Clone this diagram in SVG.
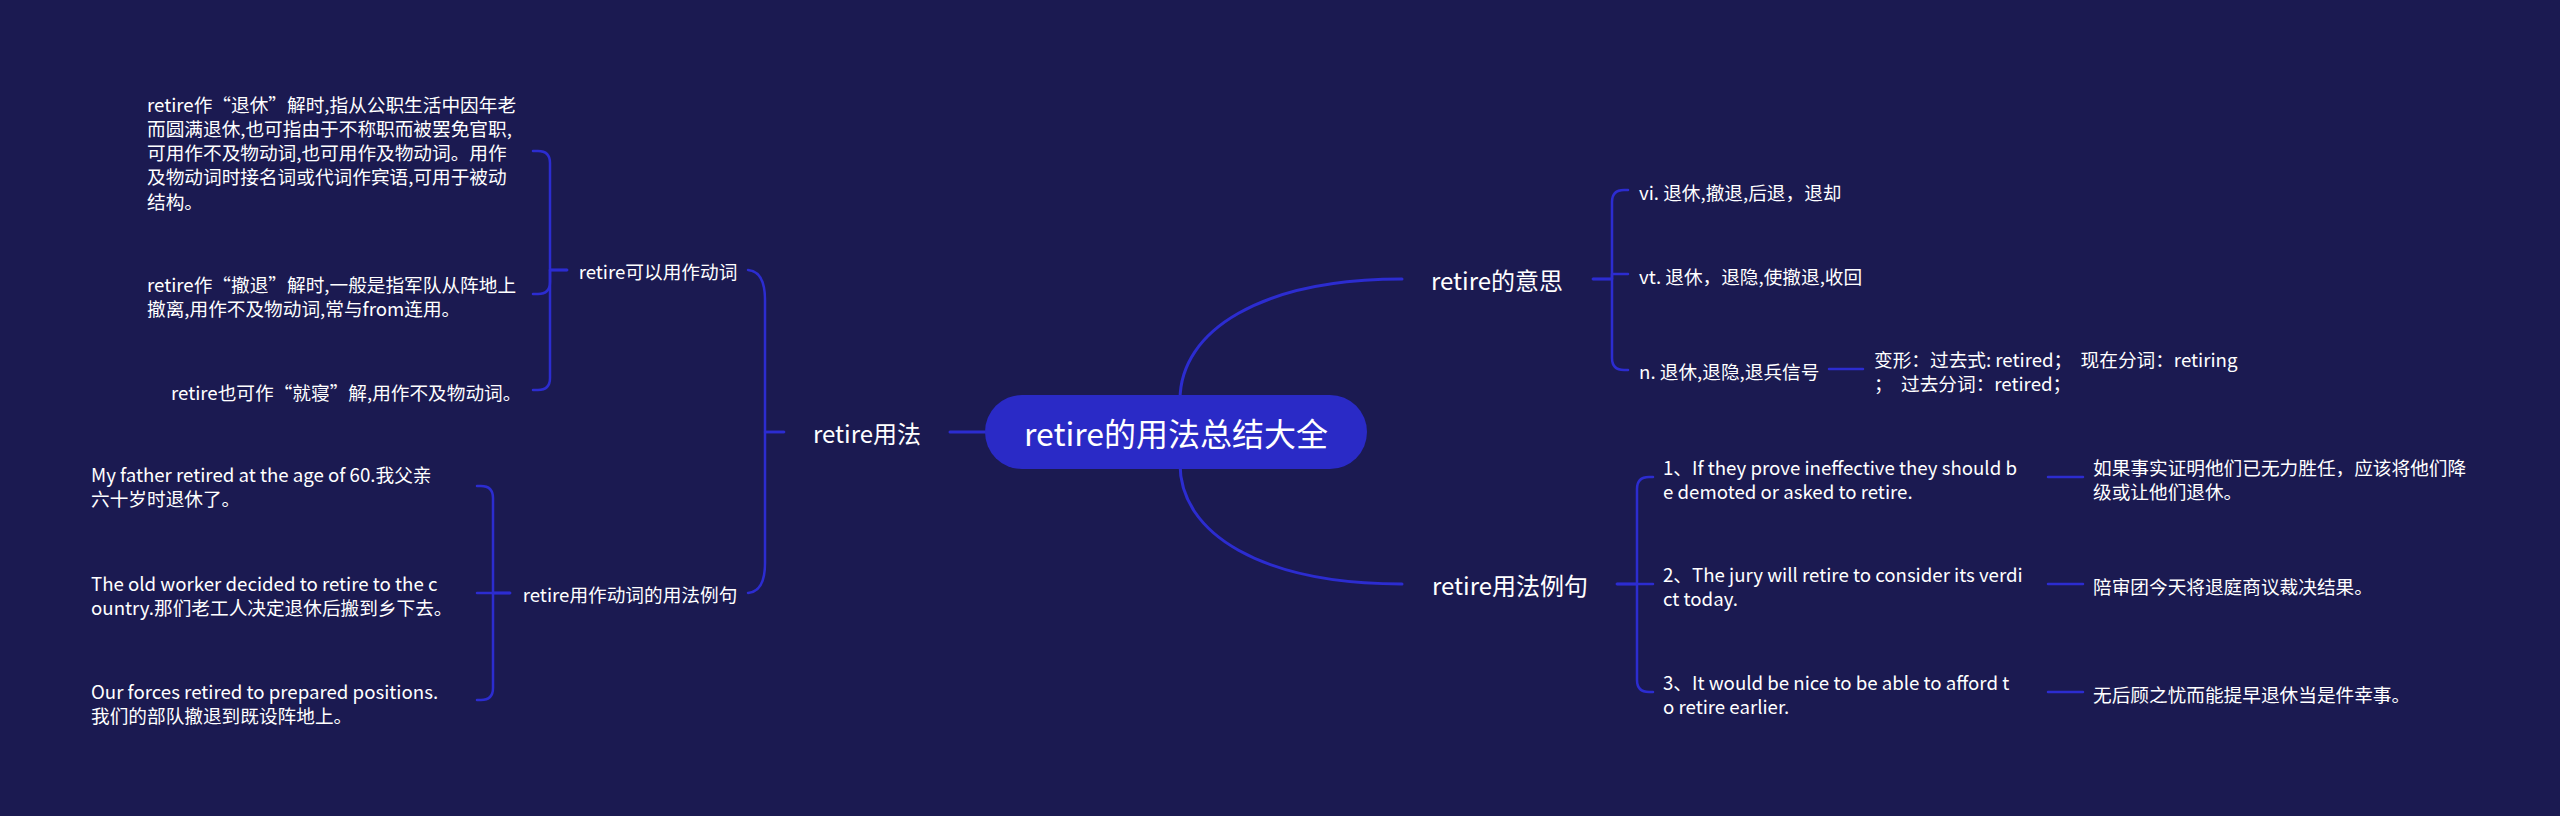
<svg xmlns="http://www.w3.org/2000/svg" width="2560" height="816" viewBox="0 0 2560 816">
<style>
text{font-family:"Noto Sans CJK SC","Noto Sans",sans-serif;fill:#ffffff;dominant-baseline:central;white-space:pre}
.root{font-size:32px;text-anchor:middle}
.main{font-size:24px;text-anchor:middle}
.sub{font-size:18.67px;text-anchor:middle}
.leaf{font-size:18.67px}
.c{fill:none;stroke:#2c2cd0;stroke-width:2.5;stroke-linecap:round;stroke-linejoin:round}
.c3{stroke-width:3}
</style>
<rect width="2560" height="816" fill="#1b1a51"/>
<g id="connectors">
<path class="c c3" d="M1180 420 L1180 400 C1180 330 1262 279 1402 279"/>
<path class="c c3" d="M1180 444 L1180 464 C1180 534 1262 584 1402 584"/>
<path class="c c3" d="M985 432 H950"/>
<path class="c" d="M784 432 H765 V300 C765 282 760 271 748 270"/>
<path class="c" d="M784 432 H765 V563 C765 581 760 592 748 593"/>
<path class="c" d="M567 270 H550 V163 Q550 151 538 151 H533"/>
<path class="c" d="M567 270 H550 V282 Q550 294 538 294 H533"/>
<path class="c" d="M567 270 H550 V378 Q550 390 538 390 H533"/>
<path class="c" d="M510 593 H493 V498 Q493 486 481 486 H477"/>
<path class="c" d="M510 593 H477"/>
<path class="c" d="M510 593 H493 V688 Q493 700 481 700 H477"/>
<path class="c" d="M1593 279 H1612 V202 Q1612 190 1624 190 H1628"/>
<path class="c" d="M1593 279 H1612 V274 H1628"/>
<path class="c" d="M1593 279 H1612 V358 Q1612 370 1624 370 H1628"/>
<path class="c" d="M1829 369 H1863"/>
<path class="c" d="M1617 584 H1637 V489 Q1637 477 1649 477 H1653"/>
<path class="c" d="M1617 584 H1653"/>
<path class="c" d="M1617 584 H1637 V680 Q1637 692 1649 692 H1653"/>
<path class="c" d="M2048 477 H2083"/>
<path class="c" d="M2048 584 H2083"/>
<path class="c" d="M2048 692 H2083"/>
</g>
<g id="root">
<rect x="985" y="395" width="382" height="74" rx="37" fill="#2a2ac6"/>
<text class="root" x="1176" y="432">retire的用法总结大全</text>
</g>
<g id="n-usage"><text class="main" x="867" y="432">retire用法</text></g>
<g id="n-meaning"><text class="main" x="1497" y="279">retire的意思</text></g>
<g id="n-examples"><text class="main" x="1510" y="584">retire用法例句</text></g>
<g id="n-verb"><text class="sub" x="658" y="270">retire可以用作动词</text></g>
<g id="n-verb-examples"><text class="sub" x="630" y="593">retire用作动词的用法例句</text></g>
<g id="n-verb-1"><text class="leaf"><tspan x="147" y="102.5">retire作“退休”解时,指从公职生活中因年老</tspan><tspan x="147" y="126.8">而圆满退休,也可指由于不称职而被罢免官职,</tspan><tspan x="147" y="151.1">可用作不及物动词,也可用作及物动词。用作</tspan><tspan x="147" y="175.4">及物动词时接名词或代词作宾语,可用于被动</tspan><tspan x="147" y="199.7">结构。</tspan></text></g>
<g id="n-verb-2"><text class="leaf"><tspan x="147" y="283">retire作“撤退”解时,一般是指军队从阵地上</tspan><tspan x="147" y="307">撤离,用作不及物动词,常与from连用。</tspan></text></g>
<g id="n-verb-3"><text class="leaf" x="171" y="391">retire也可作“就寝”解,用作不及物动词。</text></g>
<g id="n-ex-1"><text class="leaf"><tspan x="91" y="473">My father retired at the age of 60.我父亲</tspan><tspan x="91" y="497.3">六十岁时退休了。</tspan></text></g>
<g id="n-ex-2"><text class="leaf"><tspan x="91" y="581.5">The old worker decided to retire to the c</tspan><tspan x="91" y="605.8">ountry.那们老工人决定退休后搬到乡下去。</tspan></text></g>
<g id="n-ex-3"><text class="leaf"><tspan x="91" y="689.5">Our forces retired to prepared positions.</tspan><tspan x="91" y="713.8">我们的部队撤退到既设阵地上。</tspan></text></g>
<g id="n-vi"><text class="leaf" x="1639" y="191">vi. 退休,撤退,后退，退却</text></g>
<g id="n-vt"><text class="leaf" x="1639" y="275">vt. 退休，退隐,使撤退,收回</text></g>
<g id="n-n"><text class="leaf" x="1639" y="370">n. 退休,退隐,退兵信号</text></g>
<g id="n-forms"><text class="leaf"><tspan x="1874" y="358">变形：过去式: retired；  现在分词：retiring</tspan><tspan x="1874" y="382">；  过去分词：retired；</tspan></text></g>
<g id="n-s1"><text class="leaf"><tspan x="1663" y="465.5">1、If they prove ineffective they should b</tspan><tspan x="1663" y="489.8">e demoted or asked to retire.</tspan></text></g>
<g id="n-s2"><text class="leaf"><tspan x="1663" y="572.5">2、The jury will retire to consider its verdi</tspan><tspan x="1663" y="596.8">ct today.</tspan></text></g>
<g id="n-s3"><text class="leaf"><tspan x="1663" y="681">3、It would be nice to be able to afford t</tspan><tspan x="1663" y="705.3">o retire earlier.</tspan></text></g>
<g id="n-t1"><text class="leaf"><tspan x="2093" y="466">如果事实证明他们已无力胜任，应该将他们降</tspan><tspan x="2093" y="490.3">级或让他们退休。</tspan></text></g>
<g id="n-t2"><text class="leaf" x="2093" y="585">陪审团今天将退庭商议裁决结果。</text></g>
<g id="n-t3"><text class="leaf" x="2093" y="693">无后顾之忧而能提早退休当是件幸事。</text></g>
</svg>
